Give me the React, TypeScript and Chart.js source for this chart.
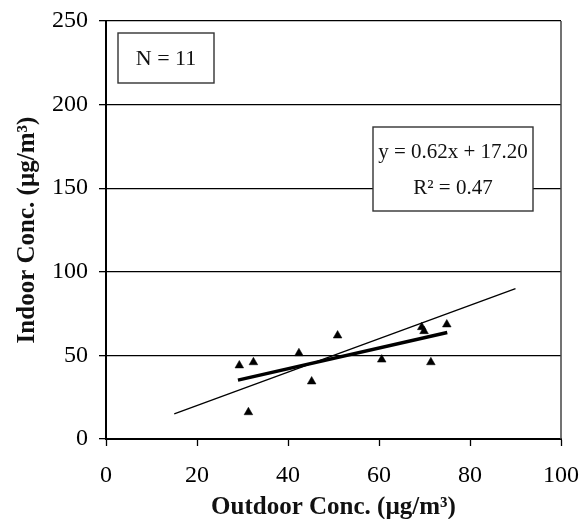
import React, { useEffect, useRef } from "react";
import { Chart, registerables } from "chart.js";

Chart.register(...registerables);

const outdoorX = [29.3, 32.4, 31.3, 42.4, 45.2, 50.9, 60.6, 69.4, 69.9, 71.4, 74.9];
const indoorY = [44.0, 45.9, 16.0, 51.3, 34.4, 61.9, 47.5, 66.9, 64.5, 45.9, 68.5];
const fitLine = [
  { x: 29, y: 35.2 },
  { x: 75, y: 63.7 },
];
const oneToOne = [
  { x: 15, y: 15 },
  { x: 90, y: 90 },
];
const xTicks = [0, 20, 40, 60, 80, 100];
const yTicks = [0, 50, 100, 150, 200, 250];
const nLabel = "N = 11";
const eqLabels = ["y = 0.62x + 17.20", "R² = 0.47"];
const xTitle = "Outdoor Conc. (µg/m³)";
const yTitle = "Indoor Conc. (µg/m³)";

const FONT = "'Liberation Serif', 'Times New Roman', serif";

export default function App() {
  const ref = useRef<HTMLCanvasElement | null>(null);

  useEffect(() => {
    document.body.style.margin = "0";
    const canvas = ref.current;
    if (!canvas) return;

    const boxesPlugin = {
      id: "boxes",
      afterDraw(chart: any) {
        const { ctx, chartArea } = chart;
        const a = chartArea;
        ctx.save();
        ctx.strokeStyle = "#444";
        ctx.lineWidth = 1.5;
        ctx.beginPath();
        ctx.moveTo(a.right, a.top);
        ctx.lineTo(a.right, a.bottom);
        ctx.stroke();

        const drawBox = (x: number, y: number, w: number, h: number) => {
          ctx.fillStyle = "#fff";
          ctx.fillRect(x, y, w, h);
          ctx.strokeStyle = "#333";
          ctx.lineWidth = 1.4;
          ctx.strokeRect(x, y, w, h);
        };
        ctx.textAlign = "center";
        ctx.textBaseline = "middle";

        const nx = a.left + 12, ny = a.top + 12, nw = 96, nh = 50;
        drawBox(nx, ny, nw, nh);
        ctx.font = `22px ${FONT}`;
        ctx.fillStyle = "#111";
        ctx.fillText(nLabel, nx + nw / 2, ny + nh / 2 + 1);

        const ex = a.left + 267, ey = a.top + 106, ew = 160, eh = 84;
        drawBox(ex, ey, ew, eh);
        ctx.font = `21px ${FONT}`;
        ctx.fillStyle = "#111";
        ctx.fillText(eqLabels[0], ex + ew / 2, ey + 25);
        ctx.fillText(eqLabels[1], ex + ew / 2, ey + 61);
        ctx.restore();
      },
    };

    const chart = new Chart(canvas, {
      type: "scatter",
      data: {
        datasets: [
          {
            label: "points",
            data: outdoorX.map((x, i) => ({ x, y: indoorY[i] })),
            pointStyle: "triangle",
            pointRadius: 5,
            backgroundColor: "#000",
            borderColor: "#000",
            borderWidth: 0.5,
            showLine: false,
          },
          {
            label: "fit",
            data: fitLine,
            showLine: true,
            borderColor: "#000",
            borderWidth: 3.4,
            pointRadius: 0,
          },
          {
            label: "1:1",
            data: oneToOne,
            showLine: true,
            borderColor: "#000",
            borderWidth: 1.3,
            pointRadius: 0,
          },
        ],
      },
      plugins: [boxesPlugin],
      options: {
        animation: false,
        responsive: false,
        layout: { padding: { left: 0, right: 19, top: 21, bottom: 0 } },
        plugins: { legend: { display: false }, tooltip: { enabled: false } },
        scales: {
          x: {
            type: "linear",
            min: 0,
            max: 100,
            afterFit: (s: any) => {
              s.height = 80;
              s.paddingLeft = 0;
              s.paddingRight = 0;
            },
            afterBuildTicks: (s: any) => {
              s.ticks = xTicks.map((v) => ({ value: v }));
            },
            grid: {
              drawOnChartArea: false,
              drawTicks: true,
              tickLength: 7,
              tickColor: "#000",
              tickWidth: 1.3,
            },
            border: { display: true, color: "#000", width: 2 },
            ticks: {
              color: "#000",
              font: { family: FONT, size: 24 },
              padding: 15,
              maxRotation: 0,
            },
            title: {
              display: true,
              text: xTitle,
              color: "#111",
              font: { family: FONT, size: 25, weight: "bold" },
              padding: { top: 0, bottom: -4 },
            },
          },
          y: {
            type: "linear",
            min: 0,
            max: 250,
            afterFit: (s: any) => {
              s.width = 106;
              s.paddingTop = 0;
              s.paddingBottom = 0;
            },
            afterBuildTicks: (s: any) => {
              s.ticks = yTicks.map((v) => ({ value: v }));
            },
            grid: {
              drawOnChartArea: true,
              drawTicks: true,
              tickLength: 7,
              color: "#000",
              lineWidth: 1.3,
              tickColor: "#000",
              tickWidth: 1.3,
            },
            border: { display: true, color: "#000", width: 2 },
            ticks: {
              color: "#000",
              font: { family: FONT, size: 24 },
              padding: 11,
            },
            title: {
              display: true,
              text: yTitle,
              color: "#111",
              font: { family: FONT, size: 25, weight: "bold" },
              padding: { top: 13, bottom: 0 },
            },
          },
        },
      },
    });
    return () => chart.destroy();
  }, []);

  return (
    <div style={{ position: "absolute", left: 0, top: 0, width: 580, height: 519 }}>
      <canvas ref={ref} width={580} height={519} style={{ width: 580, height: 519 }} />
    </div>
  );
}
